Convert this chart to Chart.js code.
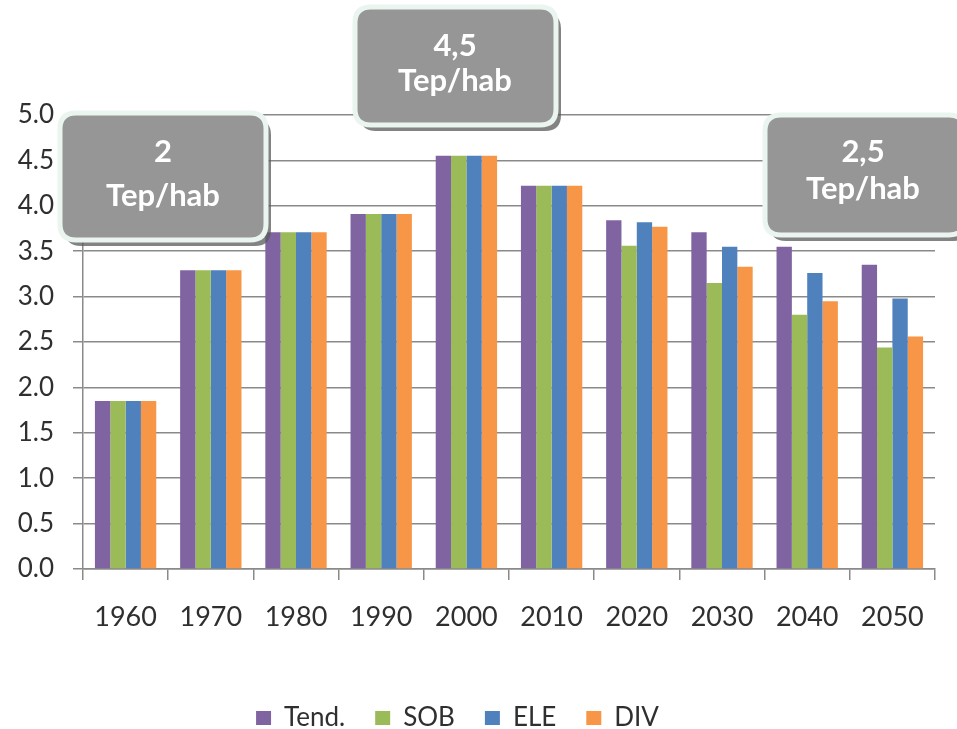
<!DOCTYPE html>
<html>
<head>
<meta charset="utf-8">
<script src="https://cdn.jsdelivr.net/npm/chart.js@4/dist/chart.umd.min.js"></script>
<style>
  html, body { margin: 0; padding: 0; background: #ffffff; }
  #wrap { width: 957px; height: 729px; position: relative; }
</style>
</head>
<body>
<div id="wrap"><canvas id="c" width="957" height="729"></canvas></div>
<script>
const categories = ["1960", "1970", "1980", "1990", "2000", "2010", "2020", "2030", "2040", "2050"];
const seriesNames = ["Tend.", "SOB", "ELE", "DIV"];
const tendValues = [1.85, 3.29, 3.71, 3.91, 4.55, 4.22, 3.84, 3.71, 3.55, 3.35];
const sobValues  = [1.85, 3.29, 3.71, 3.91, 4.55, 4.22, 3.56, 3.15, 2.80, 2.44];
const eleValues  = [1.85, 3.29, 3.71, 3.91, 4.55, 4.22, 3.82, 3.55, 3.26, 2.98];
const divValues  = [1.85, 3.29, 3.71, 3.91, 4.55, 4.22, 3.77, 3.33, 2.95, 2.56];
const yTicks = [0, 0.5, 1, 1.5, 2, 2.5, 3, 3.5, 4, 4.5, 5];
const calloutLines = [["2", "Tep/hab"], ["4,5", "Tep/hab"], ["2,5", "Tep/hab"]];

const colors = ["#8064A2", "#9BBB59", "#4F81BD", "#F79646"];
const FONT = "Lato, 'Noto Sans', sans-serif";

// callout box geometry (decoration, pixel placement)
const calloutBoxes = [
  { x: 60, y: 113, w: 206, h: 127, cx: 163, l1: 152, l2: 196 },
  { x: 355, y: 7,  w: 201, h: 118, cx: 455, l1: 46,  l2: 81 },
  { x: 765, y: 115, w: 200, h: 120, cx: 863, l1: 152, l2: 189 }
];

function roundRect(ctx, x, y, w, h, r) {
  ctx.beginPath();
  ctx.moveTo(x + r, y);
  ctx.lineTo(x + w - r, y);
  ctx.quadraticCurveTo(x + w, y, x + w, y + r);
  ctx.lineTo(x + w, y + h - r);
  ctx.quadraticCurveTo(x + w, y + h, x + w - r, y + h);
  ctx.lineTo(x + r, y + h);
  ctx.quadraticCurveTo(x, y + h, x, y + h - r);
  ctx.lineTo(x, y + r);
  ctx.quadraticCurveTo(x, y, x + r, y);
  ctx.closePath();
}

const calloutPlugin = {
  id: 'callouts',
  afterDraw(chart) {
    const ctx = chart.ctx;
    ctx.save();
    calloutBoxes.forEach((b, i) => {
      roundRect(ctx, b.x + 5, b.y + 6, b.w, b.h, 16);
      ctx.fillStyle = "rgba(90,90,90,0.75)";
      ctx.fill();
      roundRect(ctx, b.x, b.y, b.w, b.h, 16);
      ctx.fillStyle = "#969696";
      ctx.fill();
      ctx.lineWidth = 5;
      ctx.strokeStyle = "#EAF5EF";
      ctx.stroke();
      ctx.fillStyle = "#FFFFFF";
      ctx.font = "bold 31px " + FONT;
      ctx.textAlign = "center";
      ctx.textBaseline = "middle";
      ctx.fillText(calloutLines[i][0], b.cx, b.l1);
      ctx.fillText(calloutLines[i][1], b.cx, b.l2);
    });
    ctx.restore();
  }
};

const legendShift = {
  id: 'legendShift',
  afterLayout(chart) {
    const lg = chart.legend;
    if (lg) {
      lg.left -= 10; lg.right -= 10;
      lg.top += 12; lg.bottom += 12;
    }
  }
};

const valueSets = [tendValues, sobValues, eleValues, divValues];

new Chart(document.getElementById('c'), {
  type: 'bar',
  data: {
    labels: categories,
    datasets: seriesNames.map((n, i) => ({
      label: n,
      data: valueSets[i],
      backgroundColor: colors[i],
      borderWidth: 0,
      categoryPercentage: 0.72,
      barPercentage: 1.0
    }))
  },
  options: {
    responsive: false,
    animation: false,
    devicePixelRatio: 1,
    layout: { padding: { top: 115, right: 22, left: 0, bottom: 0 } },
    plugins: {
      legend: {
        position: 'bottom',
        labels: {
          boxWidth: 15,
          boxHeight: 14,
          padding: 30,
          color: '#2f2f2f',
          font: { family: FONT, size: 26 }
        }
      },
      tooltip: { enabled: false }
    },
    scales: {
      x: {
        afterFit(scale) { scale.height = 94; },
        grid: {
          offset: true,
          drawOnChartArea: false,
          drawTicks: true,
          tickLength: 11,
          color: '#8A8A8A',
          lineWidth: 1.5
        },
        border: { display: true, color: '#8A8A8A', width: 1.5 },
        ticks: {
          color: '#2f2f2f',
          padding: 21,
          font: { family: FONT, size: 27 }
        }
      },
      y: {
        min: 0,
        max: 5,
        afterFit(scale) { scale.width = 83; },
        afterBuildTicks(scale) { scale.ticks = yTicks.map(v => ({ value: v })); },
        grid: {
          color: '#8A8A8A',
          lineWidth: 1.5,
          drawTicks: true,
          tickLength: 10
        },
        border: { display: true, color: '#8A8A8A', width: 1.5 },
        ticks: {
          color: '#2f2f2f',
          padding: 19,
          font: { family: FONT, size: 26 },
          callback: (v) => Number(v).toFixed(1)
        }
      }
    }
  },
  plugins: [calloutPlugin, legendShift]
});
</script>
</body>
</html>
